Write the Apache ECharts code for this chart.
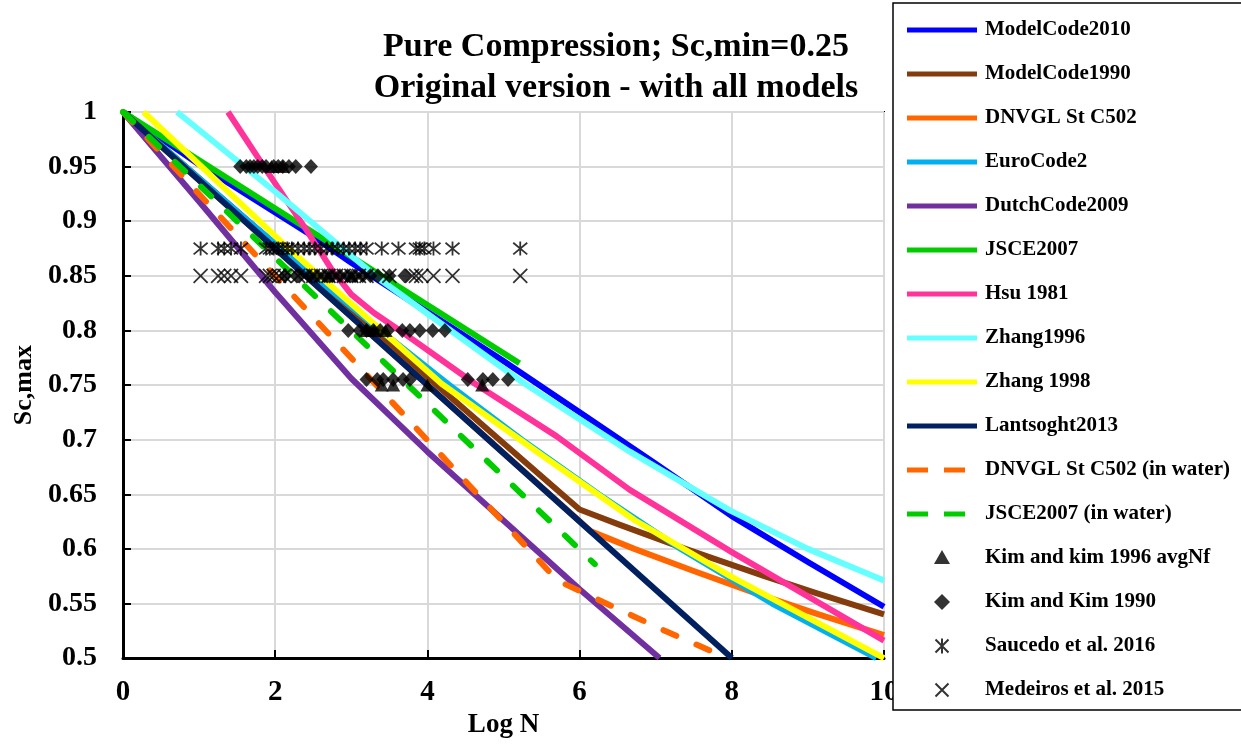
<!DOCTYPE html>
<html>
<head>
<meta charset="utf-8">
<script src="https://cdn.jsdelivr.net/npm/echarts@6/dist/echarts.min.js"></script>
<style>
html,body{margin:0;padding:0;background:#fff;}
#chart{width:1241px;height:744px;}
</style>
</head>
<body>
<div id="chart"></div>
<script>
// ---- data ----
const titleLines = ['Pure Compression; Sc,min=0.25', 'Original version - with all models'];
const xTicks = [0, 2, 4, 6, 8, 10];
const yTicks = [0.5, 0.55, 0.6, 0.65, 0.7, 0.75, 0.8, 0.85, 0.9, 0.95, 1];

const modelCode2010 = [[0,1],[1,0.952],[2,0.908],[2.5,0.886],[3,0.862],[4,0.817],[5,0.772],[6,0.725],[7,0.678],[8,0.630],[9,0.588],[10,0.547]];
const modelCode1990 = [[0,1],[6,0.636],[6.53,0.622],[7.39,0.6],[8.43,0.575],[9.09,0.56],[10,0.54]];
const dnvgl = [[0,1],[6.15,0.616],[6.72,0.6],[7.49,0.58],[8.29,0.56],[9.14,0.54],[10,0.521]];
const euroCode2 = [[0,1],[0.82,0.95],[1.65,0.9],[2.5,0.85],[3.38,0.8],[4.29,0.75],[5.24,0.7],[6.25,0.65],[7.33,0.6],[8.53,0.55],[9.9,0.5]];
const dutchCode2009 = [[0,1],[1,0.918],[2,0.835],[3,0.756],[4,0.689],[5,0.626],[6,0.563],[7.05,0.5]];
const jsce2007 = [[0,1],[5.21,0.77]];
const hsu1981 = [[1.38,1],[1.9,0.945],[2.4,0.893],[2.75,0.855],[3.0,0.833],[3.3,0.816],[3.7,0.797],[4.63,0.751],[5.7,0.703],[6.66,0.654],[8,0.597],[10,0.516]];
const zhang1996 = [[0.71,1],[2,0.927],[3.35,0.848],[5.24,0.753],[6.66,0.689],[7.98,0.635],[9,0.6],[10,0.571]];
const zhang1998 = [[0.27,1],[2.19,0.874],[3.38,0.801],[4.19,0.751],[5.5,0.686],[6.73,0.626],[7.98,0.575],[9,0.537],[10,0.5]];
const lantsoght2013 = [[0,1],[8,0.5]];
const dnvglWater = [[0,1],[5.71,0.571],[6.35,0.55],[7.12,0.525],[7.94,0.5]];
const jsceWater = [[0,1],[6.2,0.586]];

const kim1996 = [[1.95,0.95],[2.1,0.95],[2.7,0.85],[3.0,0.85],[3.2,0.8],[3.3,0.8],[3.45,0.8],[3.4,0.75],[3.55,0.75],[4.0,0.75],[4.72,0.75]];
const kim1990 = [
  [1.54,0.95],[1.62,0.95],[1.67,0.95],[1.72,0.95],[1.77,0.95],[1.83,0.95],[1.88,0.95],[1.98,0.95],[2.04,0.95],[2.1,0.95],[2.18,0.95],[2.27,0.95],[2.47,0.95],
  [2.13,0.85],[2.3,0.85],[2.45,0.85],[2.55,0.85],[2.65,0.85],[2.75,0.85],[2.85,0.85],[2.95,0.85],[3.05,0.85],[3.15,0.85],[3.25,0.85],[3.35,0.85],[3.5,0.85],[3.7,0.85],
  [2.96,0.8],[3.11,0.8],[3.2,0.8],[3.29,0.8],[3.38,0.8],[3.48,0.8],[3.67,0.8],[3.77,0.8],[3.9,0.8],[4.07,0.8],[4.23,0.8],
  [3.2,0.755],[3.34,0.755],[3.42,0.755],[3.55,0.755],[3.68,0.755],[3.77,0.755],[4.53,0.755],[4.73,0.755],[4.86,0.755],[5.06,0.755]
];
const saucedo2016 = [[1.02,0.875],[1.25,0.875],[1.33,0.875],[1.42,0.875],[1.55,0.875],[1.88,0.875],[1.93,0.875],[1.98,0.875],[2.04,0.875],[2.1,0.875],[2.16,0.875],[2.22,0.875],[2.3,0.875],[2.38,0.875],[2.45,0.875],[2.52,0.875],[2.6,0.875],[2.68,0.875],[2.75,0.875],[2.82,0.875],[2.9,0.875],[2.97,0.875],[3.05,0.875],[3.12,0.875],[3.2,0.875],[3.4,0.875],[3.62,0.875],[3.85,0.875],[3.9,0.875],[3.96,0.875],[4.08,0.875],[4.33,0.875],[5.22,0.875]];
const medeiros2015 = [[1.02,0.85],[1.25,0.85],[1.33,0.85],[1.42,0.85],[1.55,0.85],[1.88,0.85],[1.93,0.85],[1.98,0.85],[2.05,0.85],[2.12,0.85],[2.2,0.85],[2.3,0.85],[2.4,0.85],[2.5,0.85],[2.6,0.85],[2.7,0.85],[2.8,0.85],[2.9,0.85],[3.0,0.85],[3.1,0.85],[3.2,0.85],[3.5,0.85],[3.8,0.85],[3.85,0.85],[3.92,0.85],[4.08,0.85],[4.33,0.85],[5.22,0.85]];

// ---- chart ----
const FONT = 'Liberation Serif';
const chart = echarts.init(document.getElementById('chart'), null, {renderer: 'canvas'});

function lineSeries(name, data, color, dashed) {
  return {
    name: name, type: 'line', data: data, symbol: 'none', showSymbol: false, smooth: false,
    lineStyle: {color: color, width: 6, type: dashed ? [14, 22] : 'solid', cap: dashed ? 'round' : 'butt', join: 'round'},
    itemStyle: {color: color}, z: 2, animation: false
  };
}
const crossPath = 'path://M0,0L10,10M10,0L0,10';
const starPath = 'path://M0,0L10,10M10,0L0,10M5,-1L5,11';

// legend icons (70 x 20 boxes, corner points keep the box size)
const BOX = 'M0,0L0,0M70,20L70,20';
const iconLine = 'path://M0,7.5L70,7.5L70,12.5L0,12.5Z' + BOX;
const iconDash = 'path://M0,7.5L21,7.5L21,12.5L0,12.5ZM37,7.5L58,7.5L58,12.5L37,12.5Z' + BOX;
const iconTri = 'path://M35,2L43,16L27,16Z' + BOX;
const iconDia = 'path://M35,2L43,10L35,18L27,10Z' + BOX;
const iconStar = 'path://M28.5,3.5L41.5,16.5M41.5,3.5L28.5,16.5M35,2.5L35,17.5' + BOX;
const iconCross = 'path://M28.5,3.5L41.5,16.5M41.5,3.5L28.5,16.5' + BOX;

const lineNames = ['ModelCode2010','ModelCode1990','DNVGL St C502','EuroCode2','DutchCode2009','JSCE2007','Hsu 1981','Zhang1996','Zhang 1998','Lantsoght2013'];
const legendData = lineNames.map(n => ({name: n, icon: iconLine, itemStyle: {borderWidth: 0}}))
  .concat([
    {name: 'DNVGL St C502 (in water)', icon: iconDash, itemStyle: {borderWidth: 0}},
    {name: 'JSCE2007 (in water)', icon: iconDash, itemStyle: {borderWidth: 0}},
    {name: 'Kim and kim 1996 avgNf', icon: iconTri, itemStyle: {borderWidth: 0}},
    {name: 'Kim and Kim 1990', icon: iconDia, itemStyle: {borderWidth: 0}},
    {name: 'Saucedo et al. 2016', icon: iconStar},
    {name: 'Medeiros et al. 2015', icon: iconCross}
  ]);

const option = {
  animation: false,
  backgroundColor: '#fff',
  title: {
    text: titleLines.join('\n'),
    left: 611, top: 22, textAlign: 'center',
    textStyle: {fontFamily: FONT, fontWeight: 'bold', fontSize: 34, lineHeight: 41, color: '#000'}
  },
  grid: {left: 123, right: 357, top: 112, bottom: 84, show: true, borderColor: '#000', borderWidth: 2, backgroundColor: '#fff'},
  xAxis: {
    type: 'value', min: 0, max: 10, interval: 2,
    name: 'Log N', nameLocation: 'middle', nameGap: 51,
    nameTextStyle: {fontFamily: FONT, fontWeight: 'bold', fontSize: 27, color: '#000'},
    axisLine: {show: true, onZero: false, lineStyle: {color: '#000', width: 3}},
    axisTick: {show: true, inside: true, length: 8, lineStyle: {color: '#000', width: 2}},
    axisLabel: {fontFamily: FONT, fontWeight: 'bold', fontSize: 29, color: '#000', margin: 20,
      formatter: v => { const i = xTicks.indexOf(v); return i >= 0 ? String(xTicks[i]) : ''; }},
    splitLine: {show: true, lineStyle: {color: '#d9d9d9', width: 2}}
  },
  yAxis: {
    type: 'value', min: 0.5, max: 1, interval: 0.05,
    name: 'Sc,max', nameLocation: 'middle', nameGap: 86, nameRotate: 90,
    nameTextStyle: {fontFamily: FONT, fontWeight: 'bold', fontSize: 26, color: '#000'},
    axisLine: {show: true, onZero: false, lineStyle: {color: '#000', width: 3}},
    axisTick: {show: true, inside: true, length: 8, lineStyle: {color: '#000', width: 2}},
    axisLabel: {fontFamily: FONT, fontWeight: 'bold', fontSize: 28, color: '#000', margin: 26,
      formatter: v => { const r = Math.round(v * 100) / 100; const t = yTicks.find(k => Math.abs(k - r) < 1e-6); return t !== undefined ? String(t) : ''; }},
    splitLine: {show: true, lineStyle: {color: '#d9d9d9', width: 2}}
  },
  legend: {
    orient: 'vertical', left: 893, top: 3,
    padding: [15, 14, 8, 13],
    backgroundColor: '#fff', borderColor: '#000', borderWidth: 1.5,
    itemWidth: 70, itemHeight: 20, itemGap: 20,
    textStyle: {fontFamily: FONT, fontWeight: 'bold', fontSize: 21, lineHeight: 24, color: '#000', padding: [0, 0, 0, 3]},
    data: legendData,
    z: 10
  },
  series: [
    lineSeries('ModelCode2010', modelCode2010, '#0000ff'),
    lineSeries('ModelCode1990', modelCode1990, '#843c0c'),
    lineSeries('DNVGL St C502', dnvgl, '#ff6600'),
    lineSeries('EuroCode2', euroCode2, '#00b0f0'),
    lineSeries('DutchCode2009', dutchCode2009, '#7030a0'),
    lineSeries('JSCE2007', jsce2007, '#00cc00'),
    lineSeries('Hsu 1981', hsu1981, '#ff3399'),
    lineSeries('Zhang1996', zhang1996, '#66ffff'),
    lineSeries('Zhang 1998', zhang1998, '#ffff00'),
    lineSeries('Lantsoght2013', lantsoght2013, '#002060'),
    lineSeries('DNVGL St C502 (in water)', dnvglWater, '#ff6600', true),
    lineSeries('JSCE2007 (in water)', jsceWater, '#00cc00', true),
    {name: 'Kim and kim 1996 avgNf', type: 'scatter', data: kim1996, symbol: 'triangle', symbolSize: [14, 13],
      itemStyle: {color: '#000'}, z: 5},
    {name: 'Kim and Kim 1990', type: 'scatter', data: kim1990, symbol: 'diamond', symbolSize: [14, 15],
      itemStyle: {color: '#000'}, z: 5},
    {name: 'Saucedo et al. 2016', type: 'scatter', data: saucedo2016, symbol: starPath, symbolSize: 14,
      itemStyle: {color: 'rgba(0,0,0,0)', borderColor: '#000', borderWidth: 1.8}, z: 5},
    {name: 'Medeiros et al. 2015', type: 'scatter', data: medeiros2015, symbol: crossPath, symbolSize: 14,
      itemStyle: {color: 'rgba(0,0,0,0)', borderColor: '#000', borderWidth: 1.8}, z: 5}
  ]
};
chart.setOption(option);
</script>
</body>
</html>
